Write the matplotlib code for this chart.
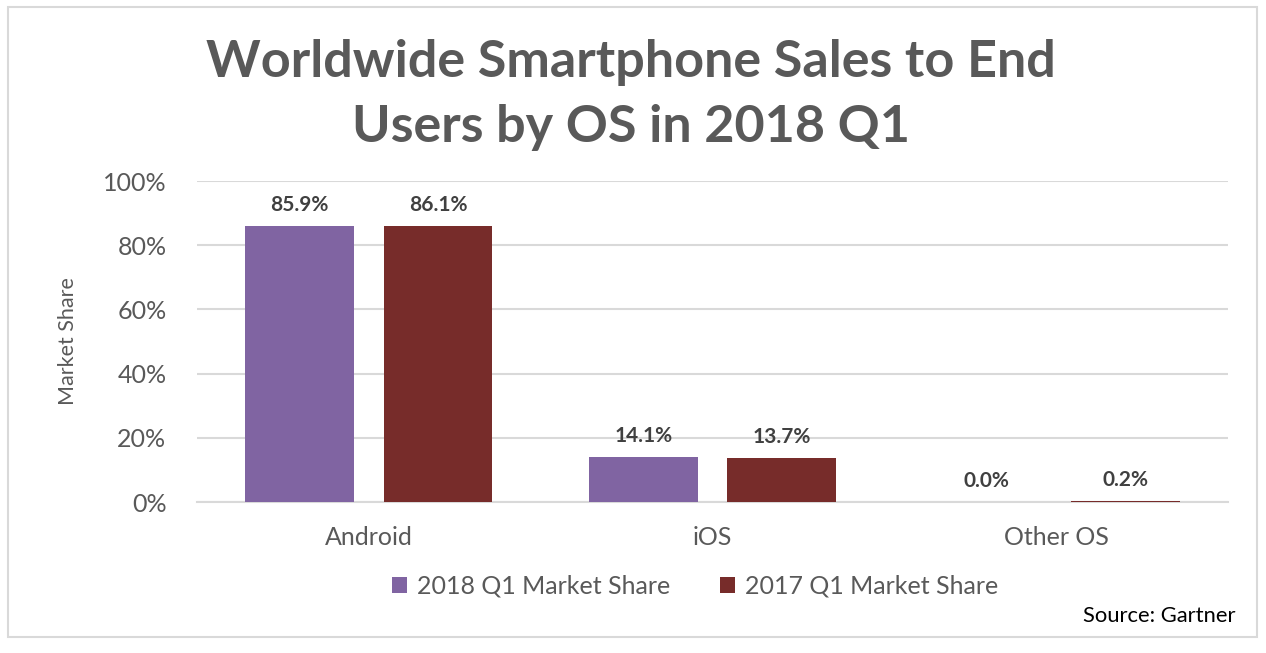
import numpy as np
import matplotlib.pyplot as plt
from matplotlib.patches import Rectangle

plt.rcParams['font.family'] = ['Lato', 'DejaVu Sans']

# data
categories = ['Android', 'iOS', 'Other OS']
share_2018 = [85.9, 14.1, 0.0]
share_2017 = [86.1, 13.7, 0.2]
series_names = ['2018 Q1 Market Share', '2017 Q1 Market Share']

purple = '#8064a2'
maroon = '#772c2a'
grey_txt = '#595959'

fig = plt.figure(figsize=(12.66, 6.53), dpi=100)
ax = fig.add_axes([0.1556, 0.2312, 0.8144, 0.4916])

# outer border of the chart
fig.patches.append(Rectangle((8 / 1266, 16 / 653), 1249 / 1266, 630 / 653,
                             transform=fig.transFigure, fill=False,
                             edgecolor='#d9d9d9', linewidth=1.5))

x = np.arange(len(categories))
w = 0.316
off = 0.2015
b1 = ax.bar(x - off, share_2018, w, color=purple, label=series_names[0], zorder=3)
b2 = ax.bar(x + off, share_2017, w, color=maroon, label=series_names[1], zorder=3)

for bars in (b1, b2):
    ax.bar_label(bars, fmt='%.1f%%', padding=8, fontsize=15, fontweight='bold',
                 color='#404040')

ax.set_xlim(-0.5, 2.5)
ax.set_ylim(0, 100)
ax.set_yticks(range(0, 101, 20))
ax.set_yticklabels([f'{v}%' for v in range(0, 101, 20)])
ax.set_xticks(x)
ax.set_xticklabels(categories)
ax.tick_params(axis='both', length=0, labelsize=18, colors=grey_txt)
ax.tick_params(axis='y', pad=22)
ax.tick_params(axis='x', pad=17)
ax.grid(axis='y', color='#d9d9d9', linewidth=1.5, zorder=0)
for s in ['top', 'right', 'left']:
    ax.spines[s].set_visible(False)
ax.spines['bottom'].set_color('#d9d9d9')
ax.spines['bottom'].set_linewidth(1.5)

ax.set_ylabel('Market Share', fontsize=15.5, color=grey_txt, labelpad=18)

fig.text(0.4985, 0.8545, 'Worldwide Smartphone Sales to End\nUsers by OS in 2018 Q1',
         ha='center', va='center', fontsize=37.5, fontweight='bold', color=grey_txt,
         linespacing=1.45)

leg = fig.legend(loc='center', bbox_to_anchor=(0.549, 0.102), ncol=2, frameon=False,
                 fontsize=18, handlelength=0.6, handleheight=0.6, handletextpad=0.4,
                 columnspacing=2.0)
for t in leg.get_texts():
    t.set_color(grey_txt)

fig.text(0.976, 0.056, 'Source: Gartner', ha='right', va='center', fontsize=15.8,
         color='black')

fig.savefig('out.png', dpi=100)
